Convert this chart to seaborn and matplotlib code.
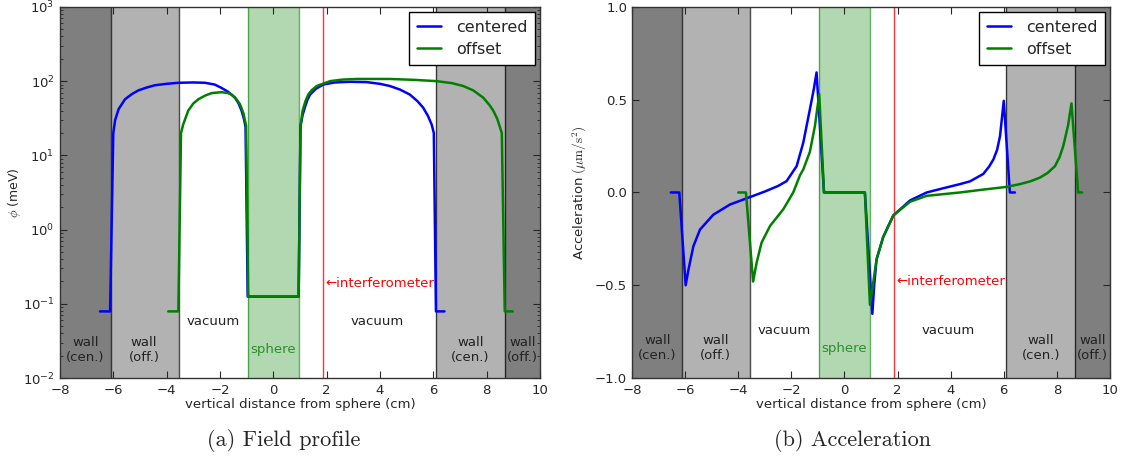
import numpy as np
import pandas as pd
import matplotlib
matplotlib.use("Agg")
import matplotlib.pyplot as plt
import seaborn as sns

# field profile (meV), centered and offset configurations
phi_cen_x = [-6.5, -6.12, -6.0, -5.93, -5.8, -5.56, -5.3, -5.06, -4.75, -4.44, -4.0, -3.56,
             -3.0, -2.56, -2.2, -1.94, -1.7, -1.44, -1.3, -1.19, -1.1, -1.04, -0.96,
             0.95, 1.02, 1.1, 1.19, 1.28, 1.38, 1.6, 1.88, 2.3, 2.88, 3.5, 4.0, 4.37,
             4.75, 5.12, 5.4, 5.62, 5.8, 5.94, 6.02, 6.1, 6.42]
phi_cen_y = [0.079, 0.079, 20, 30, 42, 57, 67, 75, 82, 88, 92, 95,
             96, 95, 90, 81, 72, 60, 50, 40, 31, 24, 0.125,
             0.125, 25, 35, 45, 56, 66, 79, 90, 96, 98, 97, 92, 86,
             77, 66, 54, 44, 34, 26, 20, 0.079, 0.079]
phi_off_x = [-3.94, -3.56, -3.46, -3.38, -3.19, -3.0, -2.81, -2.55, -2.31, -1.94, -1.7,
             -1.56, -1.4, -1.25, -1.12, -1.02, -0.94, 0.95, 1.02, 1.1, 1.2, 1.31, 1.45,
             1.63, 2.13, 2.6, 3.13, 4.37, 5.3, 6.12, 6.7, 7.12, 7.5, 7.87, 8.1, 8.25,
             8.4, 8.5, 8.57, 8.68, 8.98]
phi_off_y = [0.079, 0.079, 20, 26, 40, 50, 57, 64, 69, 71, 69,
             66, 58, 49, 37, 25, 0.125, 0.125, 24, 40, 53, 66, 76,
             86, 100, 105, 107, 107, 104, 100, 94, 86, 75, 60, 48, 40,
             31, 24, 20, 0.079, 0.079]

# acceleration (um/s^2)
acc_cen_x = [-6.54, -6.22, -5.98, -5.88, -5.69, -5.44, -4.94, -4.31, -3.56, -3.0, -2.5,
             -2.18, -1.8, -1.55, -1.3, -1.15, -1.05, -0.77, 0.77, 1.05, 1.12, 1.21,
             1.46, 1.84, 2.47, 3.1, 3.7, 4.35, 4.73, 4.98, 5.23, 5.45, 5.61, 5.75,
             5.86, 6.0, 6.23, 6.42]
acc_cen_y = [0.0, 0.0, -0.50, -0.42, -0.29, -0.20, -0.12, -0.065, -0.025, 0.005, 0.035,
             0.061, 0.142, 0.269, 0.449, 0.56, 0.647, 0.0, 0.0, -0.654, -0.50, -0.36,
             -0.24, -0.124, -0.043, 0.0, 0.022, 0.045, 0.06, 0.08, 0.10, 0.14, 0.178, 0.23,
             0.305, 0.494, 0.0, 0.0]
acc_off_x = [-4.0, -3.71, -3.44, -3.31, -3.12, -2.8, -2.3, -1.93, -1.67, -1.55, -1.3,
             -1.11, -0.95, -0.77, 0.77, 0.96, 1.1, 1.21, 1.46, 1.84, 2.47, 3.1, 4.35,
             5.2, 6.1, 6.61, 7.0, 7.36, 7.65, 7.93, 8.1, 8.24, 8.42, 8.55, 8.8, 8.95]
acc_off_y = [0.0, 0.0, -0.48, -0.38, -0.27, -0.18, -0.09, 0.0, 0.094, 0.124, 0.22,
             0.36, 0.53, 0.0, 0.0, -0.605, -0.47, -0.36, -0.24, -0.124, -0.05, -0.018, 0.0,
             0.015, 0.03, 0.045, 0.06, 0.08, 0.105, 0.142, 0.19, 0.25, 0.36, 0.48, 0.0, 0.0]

walls_dark = [(-8, -6.1), (8.68, 10)]
walls_light = [(-6.1, -3.55), (6.1, 8.68)]
wall_edges = [-6.1, -3.55, 6.1, 8.68]
sphere = (-0.95, 0.95)
interferometer = 1.85

sns.set_style("ticks")
plt.rcParams['font.family'] = ['DejaVu Sans']
plt.rcParams['mathtext.fontset'] = 'cm'
plt.rcParams['xtick.direction'] = 'in'
plt.rcParams['ytick.direction'] = 'in'
plt.rcParams['xtick.top'] = True
plt.rcParams['ytick.right'] = True

fig = plt.figure(figsize=(11.23, 4.61), dpi=100)
ax1 = fig.add_axes([0.0534, 0.180, 0.4274, 0.805])
ax2 = fig.add_axes([0.5628, 0.180, 0.4256, 0.805])

def decorate(ax, ytxt, yvac, yint):
    for a, b in walls_dark:
        ax.axvspan(a, b, color='#7f7f7f', lw=0, zorder=0)
    for a, b in walls_light:
        ax.axvspan(a, b, color='#b2b2b2', lw=0, zorder=0)
    for e in wall_edges:
        ax.axvline(e, color='k', lw=1, alpha=0.7, zorder=1)
    ax.axvspan(sphere[0], sphere[1], facecolor='g', alpha=0.3, lw=0, zorder=0)
    for e in sphere:
        ax.axvline(e, color='g', lw=1, alpha=0.6, zorder=1)
    ax.axvline(interferometer, color='r', lw=1, alpha=0.8, zorder=1)
    fs = 9.5
    ax.text(-7.05, ytxt, "wall\n(cen.)", ha='center', va='center', fontsize=fs, color='#222222')
    ax.text(-4.85, ytxt, "wall\n(off.)", ha='center', va='center', fontsize=fs, color='#222222')
    ax.text(7.4, ytxt, "wall\n(cen.)", ha='center', va='center', fontsize=fs, color='#222222')
    ax.text(9.35, ytxt, "wall\n(off.)", ha='center', va='center', fontsize=fs, color='#222222')
    ax.text(-2.25, yvac, "vacuum", ha='center', va='center', fontsize=fs, color='#222222')
    ax.text(3.9, yvac, "vacuum", ha='center', va='center', fontsize=fs, color='#222222')
    ax.text(0.0, ytxt, "sphere", ha='center', va='center', fontsize=fs, color='#2a8f2a')
    ax.text(interferometer + 0.1, yint, "\u2190interferometer", ha='left', va='center',
            fontsize=fs, color='r')
    ax.set_xlim(-8, 10)
    ax.set_xlabel("vertical distance from sphere (cm)", fontsize=9.5, labelpad=1)
    ax.tick_params(labelsize=9.5, length=5, width=0.8)
    ax.tick_params(axis='x', pad=4)
    ax.tick_params(which='minor', length=2.5, width=0.6)
    for s in ax.spines.values():
        s.set_color('#333333')
        s.set_linewidth(1)
    leg = ax.legend(loc='upper right', fontsize=11.5, fancybox=False, framealpha=1,
                    edgecolor='k', handlelength=1.5, borderaxespad=0.3, borderpad=0.5,
                    labelspacing=0.45, handletextpad=0.9)
    leg.get_frame().set_linewidth(1)

# panel (a)
sns.lineplot(x=phi_cen_x, y=phi_cen_y, ax=ax1, color='b', lw=1.8, label='centered',
             sort=False, estimator=None, zorder=3)
sns.lineplot(x=phi_off_x, y=phi_off_y, ax=ax1, color='g', lw=1.8, label='offset',
             sort=False, estimator=None, zorder=3)
ax1.set_yscale('log')
ax1.set_ylim(1e-2, 1e3)
ax1.set_ylabel(r"$\phi$ (meV)", fontsize=9, labelpad=0)
decorate(ax1, 0.024, 0.058, 0.19)
ax1.tick_params(axis='y', pad=4)

# panel (b)
sns.lineplot(x=acc_cen_x, y=acc_cen_y, ax=ax2, color='b', lw=1.8, label='centered',
             sort=False, estimator=None, zorder=3)
sns.lineplot(x=acc_off_x, y=acc_off_y, ax=ax2, color='g', lw=1.8, label='offset',
             sort=False, estimator=None, zorder=3)
ax2.set_ylim(-1, 1)
ax2.set_yticks([-1.0, -0.5, 0.0, 0.5, 1.0])
ax2.set_ylabel(r"Acceleration $(\mu\mathrm{m/s^2})$", fontsize=9.5, labelpad=4)
decorate(ax2, -0.84, -0.745, -0.48)

fig.text(0.253, 0.045, "(a) Field profile", family='cmr10', fontsize=16, ha='center', va='center')
fig.text(0.759, 0.045, "(b) Acceleration", family='cmr10', fontsize=16, ha='center', va='center')

fig.savefig("out.png", dpi=100)
